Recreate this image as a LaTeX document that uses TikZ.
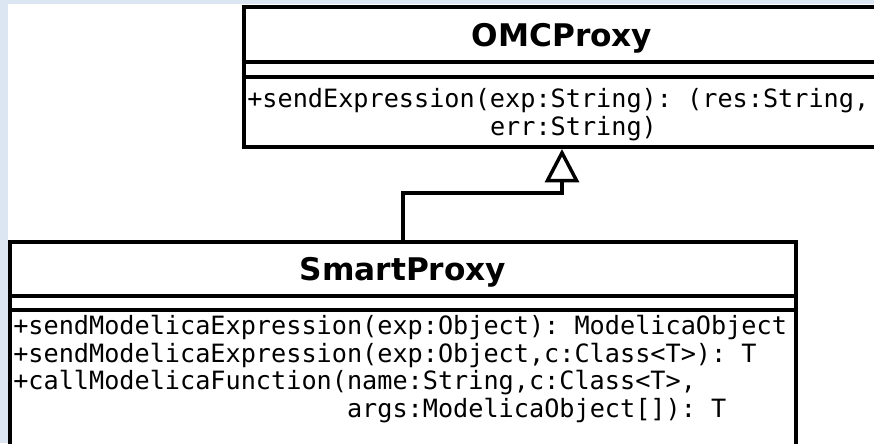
\documentclass[tikz,border=0pt]{standalone}
\usepackage{fontspec}
\usepackage{xcolor}
\usepackage{tikz}
\usetikzlibrary{arrows.meta}

\newfontfamily\umlmono{DejaVu Sans Mono}
\newfontfamily\umlsans{DejaVu Sans}
\definecolor{slidebg}{RGB}{220,230,242}

\begin{document}
\begin{tikzpicture}[x=0.75pt, y=-0.75pt,
  classbox/.style={draw=black, line width=3pt, fill=white, inner sep=0pt},
  divider/.style={black, line width=3pt},
  classname/.style={font=\umlsans\bfseries\fontsize{23.4}{28}\selectfont, inner sep=0pt, anchor=base},
  classops/.style={font=\umlmono\fontsize{18.9}{20.6}\selectfont\frenchspacing, inner sep=0pt, anchor=base west},
  inherit/.style={black, line width=2.6pt, -{Triangle[open, length=25pt, width=25.5pt]}}]
\useasboundingbox (0,0) rectangle (874,443);
\clip (0,0) rectangle (874,443);

% Slide background
\fill[slidebg] (0,0) rectangle (874,443);
\fill[white] (7.5,4) rectangle (874,443);

% Superclass box (runs past the right edge)
\node[classbox, minimum width=477pt, minimum height=105pt] (omc) at (562,77) {};
\foreach \y in {62,77} {
    \draw[divider] (omc.west |- 0,\y) -- (omc.east |- 0,\y);
}
\node[classname] (omcname) at (562,46) {OMCProxy};
\node[classops] (omcop1) at (247,107) {+sendExpression(exp:String): (res:String,};
\node[classops] (omcop2) at (247,135) {\hphantom{+sendExpression(}err:String)};

% Subclass box (runs past the bottom edge)
\node[classbox, minimum width=589.5pt, minimum height=171pt] (smart) at (403,356) {};
\foreach \y in {296,310} {
    \draw[divider] (smart.west |- 0,\y) -- (smart.east |- 0,\y);
}
\node[classname] (smartname) at (403,280) {SmartProxy};
\foreach \i/\y/\txt in {1/334.5/{+sendModelicaExpression(exp:Object): ModelicaObject},
                        2/362/{+sendModelicaExpression(exp:Object,c:Class<T>): T},
                        3/389.5/{+callModelicaFunction(name:String,c:Class<T>,},
                        4/417/{\hphantom{+callModelicaFunction(}args:ModelicaObject[]): T}} {
    \node[classops] (smartop\i) at (13,\y) {\txt};
}

% Generalization
\draw[inherit] (smart.north) -- ++(0,-47) -| (omc.south);
\end{tikzpicture}
\end{document}
